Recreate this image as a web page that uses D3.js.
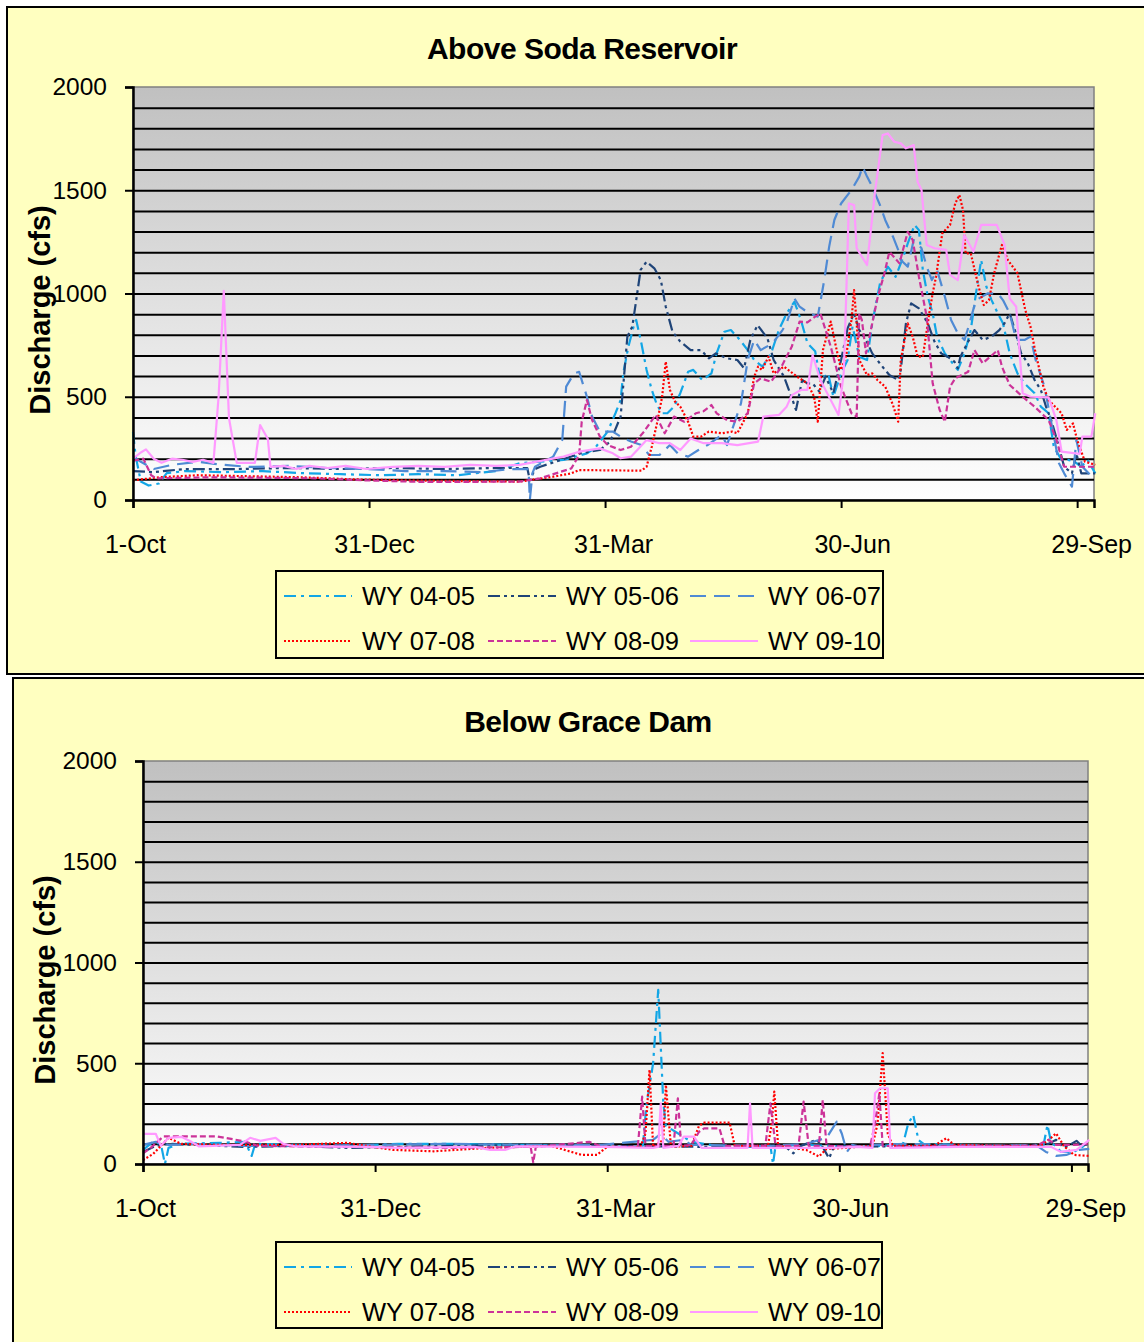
<!DOCTYPE html>
<html>
<head>
<meta charset="utf-8">
<script src="https://cdn.jsdelivr.net/npm/d3@7"></script>
<style>
body { margin: 0; background: #fff; }
svg text { font-family: Arial, "Liberation Sans", sans-serif; fill: #000; }
</style>
</head>
<body>
<svg id="chart" width="1144" height="1342"></svg>
<script>
/*********************** DATA ********************************/
// x = day of water year (0 = 1-Oct), y = discharge in cfs
const xTickDays = [0, 91, 182, 273, 364];
const xTickLabels = ['1-Oct', '31-Dec', '31-Mar', '30-Jun', '29-Sep'];
const yTicks = [0, 500, 1000, 1500, 2000];
const gridValues = [100, 200, 300, 400, 500, 600, 700, 800, 900, 1000, 1100, 1200, 1300, 1400, 1500, 1600, 1700, 1800, 1900];
const seriesNames = ['WY 04-05', 'WY 05-06', 'WY 06-07', 'WY 07-08', 'WY 08-09', 'WY 09-10'];

// Above Soda Reservoir
const sodaWY0405 = [[0,330],[1,215],[3,90],[6,70],[10,80],[13,130],[20,140],[35,135],[50,140],[65,130],[80,125],[95,120],[110,125],[125,120],[140,140],[149,178],[157,186],[166,194],[175,226],[178,250],[183,331],[186,420],[188,484],[189,613],[191,743],[193,840],[194,872],[196,759],[198,630],[200,533],[202,460],[204,420],[206,420],[208.6,452],[211,517],[214,621],[216,630],[219.5,581],[223,613],[225,710],[228,815],[230.5,823],[234,775],[237,726],[239.5,678],[242.7,646],[246,710],[249,823],[252,904],[255,960],[257.5,872],[260,760],[263,720],[265,581],[268,613],[270,500],[273,613],[275.5,678],[277.4,840],[280,694],[283,678],[285,856],[288,1049],[291,1130],[294,1081],[297,1178],[298.7,1243],[301.3,1332],[303,1307],[304.5,1114],[306.4,985],[308.3,904],[310,791],[313,710],[316,662],[318,630],[320.6,710],[323,823],[325,1001],[327,1162],[329,1033],[331,968],[333.4,904],[335.4,856],[338,710],[341,613],[343.7,565],[347.6,517],[350,452],[353,420],[355,258],[358,194],[360.5,194],[363,186],[365.6,161],[368,194],[371,129]];
const sodaWY0506 = [[0,140],[8,135],[20,150],[40,150],[60,155],[80,150],[100,155],[120,150],[140,155],[152,155],[153,95],[155,150],[157,161],[165,194],[172.6,226],[180,242],[184,283],[188,404],[190.6,791],[192.5,840],[194.4,1001],[195.7,1114],[198,1154],[201,1122],[203.5,1065],[205.4,936],[208,815],[211,767],[215,726],[219,726],[222,686],[224.7,710],[229,686],[233,678],[235.6,638],[238,775],[240.8,847],[244.6,783],[247,678],[251,597],[254.3,484],[255.6,436],[258,581],[260,565],[262,565],[264.6,525],[267,597],[270,517],[273,678],[275.5,831],[278,904],[280,823],[282.6,775],[285,710],[288.4,654],[291.6,605],[295,581],[296,630],[298,856],[300,952],[303,928],[306.4,856],[309,767],[311.6,710],[314,694],[316.7,670],[318,638],[319,694],[322,767],[324.4,823],[327.6,775],[331,791],[334,823],[336,856],[338,904],[340,823],[342.4,710],[345,662],[347.6,581],[350,533],[352,452],[354,387],[356.6,275],[359,161],[362,129],[363.7,226],[365.6,129],[371,129]];
const sodaWY0607 = [[0,210],[3,185],[8,150],[15,170],[25,185],[35,170],[45,160],[60,165],[75,155],[90,150],[105,140],[120,140],[135,135],[145,150],[152.5,150],[153,0],[154,130],[155,161],[162,210],[165.5,291],[167,549],[170,613],[172,621],[175,500],[177,404],[180,331],[185,331],[188,307],[192,283],[196,266],[199,218],[203,218],[207,266],[210,226],[214,210],[218,242],[221.5,266],[227,315],[229,266],[234.4,468],[237,678],[239.5,775],[242,726],[246.6,759],[250.4,823],[252,856],[255,976],[257,936],[260,910],[264,888],[266.5,1065],[268.4,1227],[270.4,1356],[273,1436],[277,1501],[280,1566],[281.3,1614],[283,1566],[285,1517],[288,1428],[290,1356],[293,1275],[295,1211],[296,1162],[298.7,1130],[301,1259],[304,1219],[306,1130],[308,1065],[310,1114],[313,985],[315.4,872],[318,807],[320.6,775],[322.5,856],[325,968],[329.6,1001],[333.4,1001],[335.4,968],[338,904],[340.5,775],[343.7,775],[346,791],[348,678],[351.4,549],[355.3,291],[357,178],[359,129],[362,65],[363.7,291],[366,161],[371,97]];
const sodaWY0708 = [[0,95],[10,110],[25,120],[45,115],[65,110],[85,100],[105,95],[125,92],[149,89],[162,113],[169,129],[172,145],[196,142],[198,161],[200,258],[202,371],[204,500],[205.4,670],[207,533],[209,476],[211,452],[214,379],[216,307],[219,307],[222,331],[227,323],[231,331],[233,323],[237,420],[239.5,597],[241,646],[242.5,630],[245,694],[247,613],[251,646],[256,597],[260,565],[262.6,500],[264,379],[266,726],[269,864],[271,743],[273,630],[275,702],[277,872],[278,1017],[279,855],[280,678],[283,605],[285,613],[287,581],[290,549],[293,460],[295,379],[296,678],[298.7,855],[300.6,791],[302.5,694],[304.5,694],[307,904],[308.3,1001],[309.6,1081],[312,1291],[315,1332],[317,1436],[318.6,1477],[320,1404],[321,1194],[323,1194],[326,1033],[328,944],[330,968],[332,1098],[335,1235],[337.3,1162],[341,1098],[344,920],[346,840],[348,710],[351,549],[353,484],[358,420],[360,339],[362.4,371],[364,291],[367,186],[371,170]];
const sodaWY0809 = [[0,190],[4,200],[7,120],[9,105],[30,110],[50,108],[70,105],[90,95],[110,88],[130,88],[149,89],[157,105],[169,153],[172,218],[173,379],[175,484],[177,387],[180,307],[183,266],[188,242],[192,258],[197,331],[201.5,412],[205,323],[208.6,404],[212.5,379],[217,420],[220,430],[223,460],[225,420],[229,387],[233,379],[237,420],[239.5,565],[242,589],[246,573],[250,646],[254,743],[257,864],[260,860],[263,888],[265,904],[269,743],[273,549],[277,420],[279,404],[280,904],[281,872],[282.6,710],[287,976],[289.7,1098],[291.6,1202],[295.5,1146],[298.7,1299],[300.6,1259],[303,1081],[306,888],[308.3,565],[311,436],[313,379],[315,549],[317,589],[322,621],[324.4,726],[327.6,662],[333.4,726],[335,646],[338,557],[343,500],[347.6,452],[353,387],[356,291],[359,161],[371,161]];
const sodaWY0910 = [[0,200],[3,230],[5,245],[8,200],[11,180],[15,200],[19,195],[23,185],[27,195],[31,180],[33,500],[35,1013],[37,397],[40,180],[47,180],[49,363],[52,295],[53,160],[58,165],[63,150],[68,165],[75,155],[82,165],[90,150],[100,160],[110,165],[120,160],[130,170],[140,165],[149,170],[166,210],[172,234],[180,250],[185,226],[188,202],[192,210],[198,290],[203,275],[207,275],[211,242],[215,298],[220,275],[227,275],[233,266],[241,283],[243,404],[249,412],[252,452],[254,508],[257.5,533],[260,533],[262,702],[265,581],[272,412],[274,613],[275,1001],[276,1436],[278,1428],[279,1219],[283,1138],[286,1485],[289,1767],[291,1775],[293.5,1735],[296,1727],[298,1703],[301,1719],[302.5,1541],[304,1501],[306,1235],[309,1219],[313.5,1211],[315,1090],[318,1065],[320.5,1283],[324,1202],[327,1332],[333,1332],[336,1235],[338,976],[340.5,936],[343,517],[346,500],[353,497],[356,387],[358,234],[365,223],[366,307],[369.5,307],[371,420]];

// Below Grace Dam
const graceWY0405 = [[0,70],[4,110],[7,100],[8.6,0],[10,80],[14,100],[30,105],[40,110],[42.6,40],[44,100],[60,95],[80,90],[100,100],[120,100],[150,95],[175,90],[190,85],[196,90],[197.3,285],[200,500],[202,864],[203,583],[204,301],[205,190],[210,150],[215,110],[225,90],[240,85],[246,90],[247,0],[248,90],[260,95],[270,90],[280,85],[290,90],[298,100],[300,200],[302,243],[304,120],[306,100],[320,95],[340,90],[353,90],[354.6,194],[356,110],[360,60],[365,60],[369,90]];
const graceWY0506 = [[0,60],[5,90],[10,100],[20,95],[40,85],[60,90],[80,80],[100,85],[120,90],[150,95],[180,90],[220,85],[245,90],[252,85],[255,53],[258,90],[262,110],[264,120],[266,95],[269,28],[271,90],[280,85],[300,90],[330,90],[350,95],[355,100],[358,120],[361,80],[364,100],[366,115],[368,90],[371,100]];
const graceWY0607 = [[0,95],[5,110],[10,95],[20,100],[40,90],[60,90],[90,95],[120,100],[150,95],[180,95],[200,120],[203,150],[206,110],[212,120],[215,95],[245,90],[260,100],[268,130],[272,210],[274,150],[276,60],[278,95],[283,80],[286,95],[300,100],[330,90],[350,95],[354,60],[358,40],[362,45],[367,70],[371,75]];
const graceWY0708 = [[0,20],[4,50],[10,130],[15,100],[30,95],[60,95],[80,105],[98,70],[114,63],[135,80],[160,90],[172,45],[178,45],[182,85],[195,85],[197,150],[198.6,467],[200,85],[204,120],[205,392],[207,85],[215,90],[218,190],[220,205],[230,205],[232,90],[245,90],[246.5,200],[247.5,359],[249,90],[260,70],[265,37],[268,75],[275,80],[286,90],[288,200],[290,550],[292,150],[294,90],[310,90],[315,128],[318,95],[340,90],[352,90],[356,130],[358,152],[361,90],[365,45],[371,40]];
const graceWY0809 = [[0,53],[3,80],[8,137],[29,137],[40,112],[45,90],[80,85],[120,80],[152,85],[153,7],[154,85],[175,110],[180,85],[194,85],[195.7,334],[197,90],[208,90],[209.7,326],[211,90],[215,95],[218,160],[220,177],[226,177],[228,90],[244,90],[246,301],[248,90],[257,90],[259,310],[261,90],[265,90],[266.5,318],[268,90],[285,85],[287,200],[288.7,351],[290,90],[300,85],[320,90],[350,90],[355,120],[358,95],[365,95],[371,100]];
const graceWY0910 = [[0,150],[5,150],[7,90],[10,130],[15,135],[19,110],[22,87],[38,95],[42,130],[46,115],[52,130],[55,100],[60,87],[90,85],[100,80],[130,85],[136,70],[142,70],[146,87],[180,85],[200,80],[202,85],[203,301],[204,80],[210,90],[212,136],[216,136],[219,80],[237,80],[238,301],[239,80],[270,80],[280,85],[286,80],[287,351],[289,376],[292,376],[293,80],[320,85],[350,85],[356,85],[360,60],[366,70],[371,120]];

/*********************** STYLES ********************************/
const seriesColors = ['#12a6e6', '#1f4478', '#4f8ad4', '#ff0000', '#cc3399', '#ff99ff'];
const seriesDashes = ['12,5,3,5', '12,4,3,4,3,4', '16,8', '2,2', '6,3', null];

let svg = d3.select('#chart');

// plot area gradient (gray at top, white at bottom)
let grad = svg.append('defs').append('linearGradient')
    .attr('id', 'plotFill')
    .attr('x1', 0).attr('y1', 0).attr('x2', 0).attr('y2', 1);
grad.append('stop').attr('offset', '0%').attr('stop-color', '#c0c0c0');
grad.append('stop').attr('offset', '100%').attr('stop-color', '#ffffff');

function drawChart(c) {
    let g = svg.append('g');

    // outer frame
    g.append('rect')
        .attr('x', c.frame[0]).attr('y', c.frame[1])
        .attr('width', c.frame[2]).attr('height', c.frame[3])
        .attr('fill', '#ffffc0')
        .attr('stroke', '#000')
        .attr('stroke-width', 2);

    let x = d3.scaleLinear().domain([0, 370.5]).range([c.left, c.right]);
    let y = d3.scaleLinear().domain([0, 2000]).range([c.bottom, c.top]);

    g.append('rect')
        .attr('x', c.left).attr('y', c.top)
        .attr('width', c.right - c.left).attr('height', c.bottom - c.top)
        .attr('fill', 'url(#plotFill)')
        .attr('stroke', '#808080')
        .attr('stroke-width', 1.5);

    // gridlines
    g.append('g')
        .attr('transform', `translate(${c.left},0)`)
        .call(d3.axisLeft(y).tickValues(gridValues).tickSize(-(c.right - c.left)).tickFormat(''))
        .call(s => s.select('.domain').remove())
        .call(s => s.selectAll('line').attr('stroke', '#000').attr('stroke-width', 2));

    // series
    let line = d3.line().x(d => x(d[0])).y(d => y(d[1]));
    c.series.forEach((data, i) => {
        g.append('path')
            .datum(data)
            .attr('d', line)
            .attr('fill', 'none')
            .attr('stroke', seriesColors[i])
            .attr('stroke-width', 2.2)
            .attr('stroke-dasharray', seriesDashes[i])
            .attr('stroke-linejoin', 'round');
    });

    // y axis
    g.append('g')
        .attr('transform', `translate(${c.left},0)`)
        .call(d3.axisLeft(y).tickValues(yTicks).tickFormat(d3.format('d')).tickSize(8).tickPadding(18))
        .call(s => s.select('.domain').attr('stroke', '#000').attr('stroke-width', 2.5))
        .call(s => s.selectAll('line').attr('stroke', '#000').attr('stroke-width', 2))
        .call(s => s.selectAll('text').attr('font-size', 24.5).attr('font-family', 'Arial, "Liberation Sans", sans-serif'));

    // x axis
    g.append('g')
        .attr('transform', `translate(0,${c.bottom})`)
        .call(d3.axisBottom(x).tickValues(xTickDays).tickFormat((d, i) => xTickLabels[i]).tickSize(8).tickPadding(27))
        .call(s => s.select('.domain').attr('stroke', '#000').attr('stroke-width', 2.5))
        .call(s => s.selectAll('line').attr('stroke', '#000').attr('stroke-width', 2))
        .call(s => s.selectAll('text')
            .attr('font-size', 25)
            .attr('font-family', 'Arial, "Liberation Sans", sans-serif')
            .attr('dx', (d, i) => 2 + i * 3));

    // title
    g.append('text')
        .attr('x', c.titleX).attr('y', c.titleY)
        .attr('text-anchor', 'middle')
        .attr('font-size', 30)
        .attr('font-weight', 'bold')
        .attr('letter-spacing', -0.5)
        .text(c.title);

    // y axis label
    g.append('text')
        .attr('transform', `translate(${c.yLabelX},${c.yLabelY}) rotate(-90)`)
        .attr('text-anchor', 'middle')
        .attr('font-size', 29)
        .attr('font-weight', 'bold')
        .text('Discharge (cfs)');

    // legend
    let lg = g.append('g').attr('transform', `translate(${c.legend[0]},${c.legend[1]})`);
    lg.append('rect')
        .attr('width', c.legend[2]).attr('height', c.legend[3])
        .attr('fill', '#ffffc0')
        .attr('stroke', '#000')
        .attr('stroke-width', 2);
    let colX = [8, 212, 414];
    let rowY = [25, 70];
    seriesNames.forEach((name, i) => {
        let cx = colX[i % 3];
        let cy = rowY[Math.floor(i / 3)];
        lg.append('line')
            .attr('x1', cx).attr('x2', cx + 68)
            .attr('y1', cy).attr('y2', cy)
            .attr('stroke', seriesColors[i])
            .attr('stroke-width', 2.2)
            .attr('stroke-dasharray', seriesDashes[i]);
        lg.append('text')
            .attr('x', cx + 78).attr('y', cy + 9)
            .attr('font-size', 25.5)
            .text(name);
    });
}

drawChart({
    frame: [7, 7, 1140, 667],
    left: 133, right: 1094, top: 87, bottom: 500,
    title: 'Above Soda Reservoir', titleX: 582, titleY: 59,
    yLabelX: 50, yLabelY: 310,
    legend: [276, 571, 607, 87],
    series: [sodaWY0405, sodaWY0506, sodaWY0607, sodaWY0708, sodaWY0809, sodaWY0910]
});

drawChart({
    frame: [13, 678, 1140, 680],
    left: 143, right: 1088, top: 761, bottom: 1164,
    title: 'Below Grace Dam', titleX: 588, titleY: 732,
    yLabelX: 55, yLabelY: 980,
    legend: [276, 1242, 606, 86],
    series: [graceWY0405, graceWY0506, graceWY0607, graceWY0708, graceWY0809, graceWY0910]
});
</script>
</body>
</html>
